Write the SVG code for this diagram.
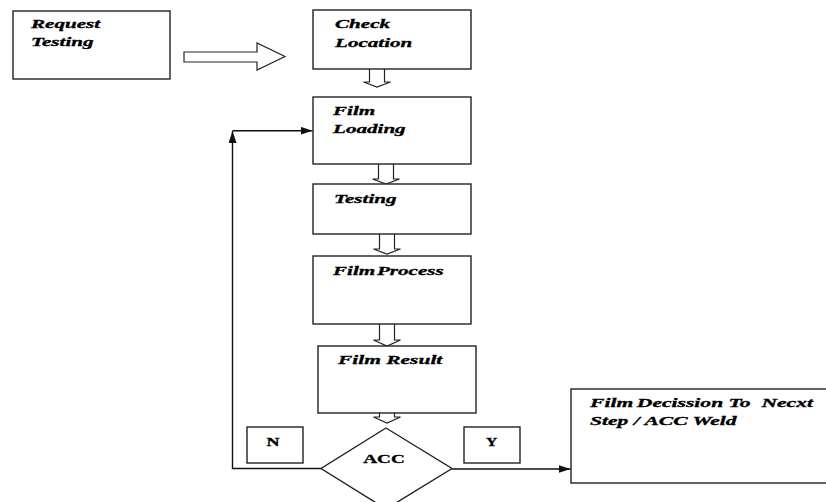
<svg xmlns="http://www.w3.org/2000/svg" width="826" height="502" viewBox="0 0 826 502">
  <style>
    .box { fill: #fff; stroke: #222; stroke-width: 1.4; }
    .blk { fill: #fff; stroke: #222; stroke-width: 1.2; stroke-linejoin: miter; }
    .ln { fill: none; stroke: #111; stroke-width: 1.4; }
    .t { font-family: "Liberation Serif", "Times New Roman", serif; font-size: 12px; font-weight: bold; font-style: italic; fill: #000; stroke: #000; stroke-width: 0.3; white-space: pre; }
    .u { font-family: "Liberation Serif", "Times New Roman", serif; font-size: 12px; font-weight: bold; fill: #000; stroke: #000; stroke-width: 0.3; text-anchor: middle; }
  </style>
  <defs>
    <marker id="tri" viewBox="0 0 12 8" refX="12" refY="4" markerWidth="12" markerHeight="8" markerUnits="userSpaceOnUse" orient="auto">
      <path d="M0,0 L12,4 L0,8 Z" fill="#111"/>
    </marker>
  </defs>
  <rect width="826" height="502" fill="#fff"/>

  <!-- connectors: hollow block arrows and the N / Y flow lines -->
  <g id="connectors">
    <path class="blk" d="M184,52 H257 V43 L285,56.5 L257,70 V62 H184 Z"/>
    <path class="blk" d="M369.5,69 V82 H363.5 L377,87 L390.5,82 H384.5 V69"/>
    <path class="blk" d="M378.5,164 V179 H372.5 L386,184 L399.5,179 H393.5 V164"/>
    <path class="blk" d="M379.5,234 V249 H373.5 L387,254 L400.5,249 H394.5 V234"/>
    <path class="blk" d="M379.5,324 V340 H373.5 L387,346 L400.5,340 H394.5 V324"/>
    <path class="blk" d="M379.5,413 V417 H373.5 L387,423 L400.5,417 H394.5 V413"/>
    <path class="ln" d="M321,468.5 H232.5 V131" marker-end="url(#tri)"/>
    <path class="ln" d="M232.5,130.7 H312.5" marker-end="url(#tri)"/>
    <path class="ln" d="M452,469 H570.5" marker-end="url(#tri)"/>
  </g>

  <g id="request-testing">
    <rect class="box" x="13" y="11" width="157" height="68"/>
    <g transform="translate(31,28.3) scale(1.76,1)">
      <text class="t" x="0" y="0">Request</text>
      <text class="t" x="0" y="17.7">Testing</text>
    </g>
  </g>

  <g id="check-location">
    <rect class="box" x="313" y="10" width="158" height="59"/>
    <g transform="translate(335,28) scale(1.76,1)">
      <text class="t" x="0" y="0">Check</text>
      <text class="t" x="0" y="19">Location</text>
    </g>
  </g>

  <g id="film-loading">
    <rect class="box" x="313" y="97" width="158" height="67"/>
    <g transform="translate(333,115) scale(1.76,1)">
      <text class="t" x="0" y="0">Film</text>
      <text class="t" x="0" y="18.3">Loading</text>
    </g>
  </g>

  <g id="testing">
    <rect class="box" x="313" y="184" width="158" height="50"/>
    <g transform="translate(334,202.7) scale(1.76,1)">
      <text class="t" x="0" y="0">Testing</text>
    </g>
  </g>

  <g id="film-process">
    <rect class="box" x="313" y="256" width="158" height="68"/>
    <g transform="translate(333,275) scale(1.76,1)">
      <text class="t" x="0" y="0" style="word-spacing:-2px">Film Process</text>
    </g>
  </g>

  <g id="film-result">
    <rect class="box" x="318" y="346" width="158" height="67"/>
    <g transform="translate(338,364) scale(1.79,1)">
      <text class="t" x="0" y="0">Film Result</text>
    </g>
  </g>

  <g id="acc">
    <path class="box" d="M386,428 L452,468.5 L386,509 L321,468.5 Z"/>
    <g transform="translate(384,463.3) scale(1.6,1)">
      <text class="u" x="0" y="0">ACC</text>
    </g>
  </g>

  <g id="label-n">
    <rect class="box" x="247" y="427" width="56" height="36"/>
    <g transform="translate(273,446) scale(1.5,1)">
      <text class="u" x="0" y="0">N</text>
    </g>
  </g>

  <g id="label-y">
    <rect class="box" x="464" y="427" width="56" height="36"/>
    <g transform="translate(491.5,446) scale(1.3,1)">
      <text class="u" x="0" y="0">Y</text>
    </g>
  </g>

  <g id="decision">
    <rect class="box" x="571" y="389" width="262" height="94"/>
    <g transform="translate(590,406.7) scale(1.8,1)">
      <text class="t" x="0" y="0">Film<tspan dx="-1"> Decission To  Necxt</tspan></text>
      <text class="t" x="0" y="18.3">Step / ACC Weld</text>
    </g>
  </g>
</svg>
